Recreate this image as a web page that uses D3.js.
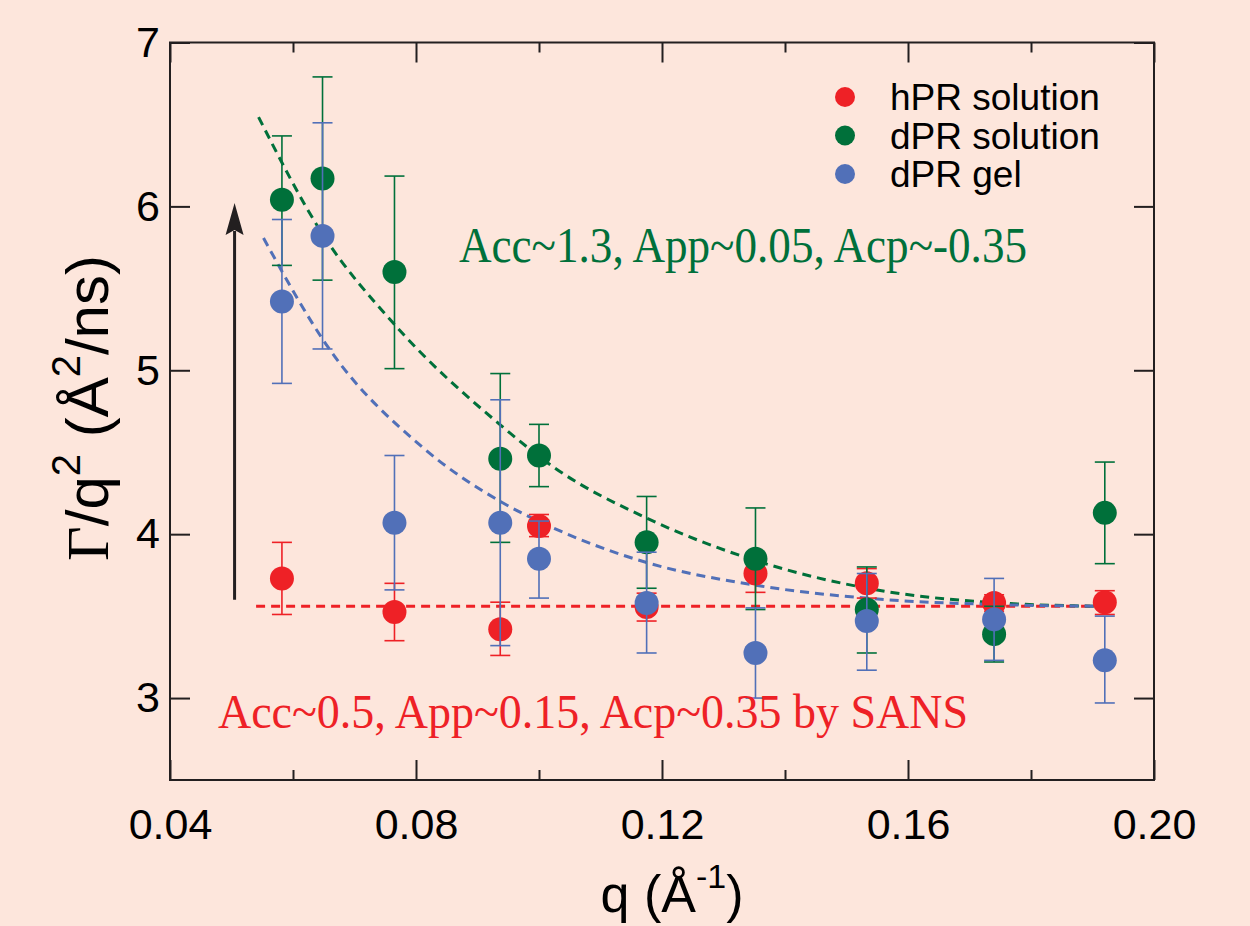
<!DOCTYPE html>
<html lang="en">
<head>
  <meta charset="UTF-8">
  <title>Gamma/q^2 vs q</title>
  <script src="https://d3js.org/d3.v7.min.js"></script>
  <style>
    body { margin: 0; background: #fde6dc; }
    svg { display: block; }
  </style>
</head>
<body>
  <svg width="1250" height="926"></svg>
  <script>
    const hprQ  = [0.0582, 0.0765, 0.0937, 0.1000, 0.1175, 0.1352, 0.1533, 0.1740, 0.1920];
    const hprV  = [3.73, 3.525, 3.42, 4.05, 3.555, 3.76, 3.70, 3.58, 3.585];
    const hprLo = [3.51, 3.35, 3.26, 3.985, 3.47, 3.645, 3.61, 3.53, 3.51];
    const hprHi = [3.95, 3.70, 3.585, 4.12, 3.64, 3.88, 3.79, 3.63, 3.655];

    const dsolQ  = [0.0582, 0.0648, 0.0765, 0.0937, 0.1000, 0.1175, 0.1352, 0.1533, 0.1740, 0.1920];
    const dsolV  = [6.04, 6.17, 5.60, 4.46, 4.48, 3.95, 3.85, 3.54, 3.39, 4.13];
    const dsolLo = [5.64, 5.55, 5.01, 3.95, 4.29, 3.67, 3.54, 3.275, 3.22, 3.82];
    const dsolHi = [6.43, 6.79, 6.185, 4.98, 4.67, 4.23, 4.16, 3.80, 3.56, 4.44];

    const dgelQ  = [0.0582, 0.0648, 0.0765, 0.0937, 0.1000, 0.1175, 0.1352, 0.1533, 0.1740, 0.1920];
    const dgelV  = [5.42, 5.82, 4.07, 4.07, 3.85, 3.58, 3.275, 3.47, 3.48, 3.23];
    const dgelLo = [4.92, 5.13, 3.66, 3.32, 3.61, 3.275, 3.0, 3.17, 3.23, 2.97];
    const dgelHi = [5.92, 6.51, 4.48, 4.82, 4.08, 3.89, 3.55, 3.76, 3.73, 3.50];

    // dashed model curves
    const fitHprQ = [0.054, 0.1925];
    const fitHprV = [3.56, 3.56];
    const fitDsolQ = [0.0544, 0.0647, 0.0763, 0.0937, 0.1026, 0.1175, 0.1348, 0.1565, 0.175, 0.1915];
    const fitDsolV = [6.545, 5.837, 5.288, 4.667, 4.403, 4.098, 3.844, 3.650, 3.58, 3.56];
    const fitDgelQ = [0.0552, 0.066, 0.0809, 0.0937, 0.1018, 0.1175, 0.1348, 0.1565, 0.175, 0.1915];
    const fitDgelV = [5.807, 5.125, 4.535, 4.20, 4.047, 3.827, 3.691, 3.60, 3.57, 3.56];

    const xMajor = [0.04, 0.08, 0.12, 0.16, 0.20];
    const xMinor = [0.06, 0.10, 0.14, 0.18];
    const yMajor = [3, 4, 5, 6, 7];

    const seriesNames = ["hPR solution", "dPR solution", "dPR gel"];
    const colors = ["#ee2126", "#00703a", "#5170b8"];

    const svg = d3.select("svg");
    const mLeft = 170, mRight = 1154, mTop = 42.5, mBottom = 780;

    const x = d3.scaleLinear().domain([0.04, 0.20]).range([mLeft, mRight]);
    const y = d3.scaleLinear().domain([2.5, 7]).range([mBottom, mTop]);

    svg.append("rect").attr("width", 1250).attr("height", 926).attr("fill", "#fde6dc");

    // axes
    const axisColor = "#231f20";
    function styleAxis(g) {
      g.select(".domain").remove();
      g.selectAll(".tick line").attr("stroke", axisColor).attr("stroke-width", 2);
      g.selectAll("text").attr("fill", "#000").attr("font-family", "Liberation Sans, Arial, sans-serif").attr("font-size", 43);
    }

    svg.append("g").attr("transform", `translate(0,${mBottom})`)
      .call(d3.axisBottom(x).tickValues(xMajor).tickSizeInner(-20).tickSizeOuter(0).tickPadding(28).tickFormat(d3.format(".2f")))
      .call(styleAxis);
    svg.append("g").attr("transform", `translate(0,${mBottom})`)
      .call(d3.axisBottom(x).tickValues(xMinor).tickSizeInner(-10).tickSizeOuter(0).tickFormat(""))
      .call(styleAxis);
    svg.append("g").attr("transform", `translate(0,${mTop})`)
      .call(d3.axisTop(x).tickValues(xMajor).tickSizeInner(-20).tickSizeOuter(0).tickFormat(""))
      .call(styleAxis);
    svg.append("g").attr("transform", `translate(0,${mTop})`)
      .call(d3.axisTop(x).tickValues(xMinor).tickSizeInner(-10).tickSizeOuter(0).tickFormat(""))
      .call(styleAxis);
    svg.append("g").attr("transform", `translate(${mLeft},0)`)
      .call(d3.axisLeft(y).tickValues(yMajor).tickSizeInner(-20).tickSizeOuter(0).tickPadding(10).tickFormat(d3.format("d")))
      .call(styleAxis);
    svg.append("g").attr("transform", `translate(${mRight},0)`)
      .call(d3.axisRight(y).tickValues(yMajor).tickSizeInner(-20).tickSizeOuter(0).tickFormat(""))
      .call(styleAxis);

    svg.append("rect")
      .attr("x", mLeft).attr("y", mTop)
      .attr("width", mRight - mLeft).attr("height", mBottom - mTop)
      .attr("fill", "none").attr("stroke", axisColor).attr("stroke-width", 2);

    // axis titles
    svg.append("text")
      .attr("x", 672).attr("y", 912)
      .attr("text-anchor", "middle")
      .attr("font-family", "Liberation Sans, Arial, sans-serif")
      .attr("font-size", 52)
      .call(t => {
        t.append("tspan").text("q (Å");
        t.append("tspan").attr("font-size", 34).attr("dy", -24).text("-1");
        t.append("tspan").attr("dy", 24).text(")");
      });

    svg.append("text")
      .attr("transform", "translate(108,408) rotate(-90)")
      .attr("text-anchor", "middle")
      .attr("font-family", "Liberation Sans, Arial, sans-serif")
      .attr("font-size", 60)
      .call(t => {
        t.append("tspan").attr("font-family", "Liberation Serif, Times New Roman, serif").text("Γ");
        t.append("tspan").text("/q");
        t.append("tspan").attr("font-size", 40).attr("dy", -28).text("2");
        t.append("tspan").attr("dy", 28).text(" (Å");
        t.append("tspan").attr("font-size", 40).attr("dy", -28).text("2");
        t.append("tspan").attr("dy", 28).text("/ns)");
      });

    // dashed model lines
    const line = d3.line().x(d => x(d[0])).y(d => y(d[1])).curve(d3.curveMonotoneX);
    const fits = [
      [fitHprQ, fitHprV, colors[0]],
      [fitDsolQ, fitDsolV, colors[1]],
      [fitDgelQ, fitDgelV, colors[2]]
    ];
    fits.forEach(([qs, vs, c]) => {
      svg.append("path")
        .datum(qs.map((q, i) => [q, vs[i]]))
        .attr("d", line)
        .attr("fill", "none")
        .attr("stroke", c)
        .attr("stroke-width", 3)
        .attr("stroke-dasharray", "9,6");
    });

    // arrow
    svg.append("line")
      .attr("x1", x(0.0505)).attr("x2", x(0.0505))
      .attr("y1", y(3.6)).attr("y2", y(5.85))
      .attr("stroke", "#231f20").attr("stroke-width", 3);
    const ax = x(0.0505), ay = y(6.02);
    svg.append("path")
      .attr("d", `M${ax},${ay} L${ax + 9},${ay + 32} L${ax},${ay + 27} L${ax - 9},${ay + 32} Z`)
      .attr("fill", "#231f20");

    // error bars and points
    const series = [
      [hprQ, hprV, hprLo, hprHi],
      [dsolQ, dsolV, dsolLo, dsolHi],
      [dgelQ, dgelV, dgelLo, dgelHi]
    ];
    series.forEach(([qs, vs, lo, hi], si) => {
      const data = qs.map((q, i) => ({ q, v: vs[i], lo: lo[i], hi: hi[i] }));
      const g = svg.append("g");
      const eb = g.selectAll("g.eb").data(data).enter().append("g").attr("stroke", colors[si]).attr("stroke-width", 1.6);
      eb.append("line").attr("x1", d => x(d.q)).attr("x2", d => x(d.q)).attr("y1", d => y(d.lo)).attr("y2", d => y(d.hi));
      eb.append("line").attr("x1", d => x(d.q) - 10).attr("x2", d => x(d.q) + 10).attr("y1", d => y(d.lo)).attr("y2", d => y(d.lo));
      eb.append("line").attr("x1", d => x(d.q) - 10).attr("x2", d => x(d.q) + 10).attr("y1", d => y(d.hi)).attr("y2", d => y(d.hi));
      g.selectAll("circle").data(data).enter().append("circle")
        .attr("cx", d => x(d.q)).attr("cy", d => y(d.v)).attr("r", 12)
        .attr("fill", colors[si]);
    });

    // legend
    const legend = svg.append("g");
    seriesNames.forEach((name, i) => {
      legend.append("circle").attr("cx", 845).attr("cy", 97 + i * 38.5).attr("r", 10).attr("fill", colors[i]);
      legend.append("text").attr("x", 890).attr("y", 110 + i * 38.5)
        .attr("font-family", "Liberation Sans, Arial, sans-serif").attr("font-size", 37)
        .attr("fill", "#000").text(name);
    });

    // annotations
    svg.append("text")
      .attr("x", 459).attr("y", 262)
      .attr("font-family", "Liberation Serif, Times New Roman, serif")
      .attr("font-size", 50)
      .attr("fill", colors[1])
      .attr("textLength", 568).attr("lengthAdjust", "spacingAndGlyphs")
      .text("Acc~1.3, App~0.05, Acp~-0.35");
    svg.append("text")
      .attr("x", 218).attr("y", 728)
      .attr("font-family", "Liberation Serif, Times New Roman, serif")
      .attr("font-size", 48)
      .attr("fill", colors[0])
      .attr("textLength", 750).attr("lengthAdjust", "spacingAndGlyphs")
      .text("Acc~0.5, App~0.15, Acp~0.35 by SANS");
  </script>
</body>
</html>
